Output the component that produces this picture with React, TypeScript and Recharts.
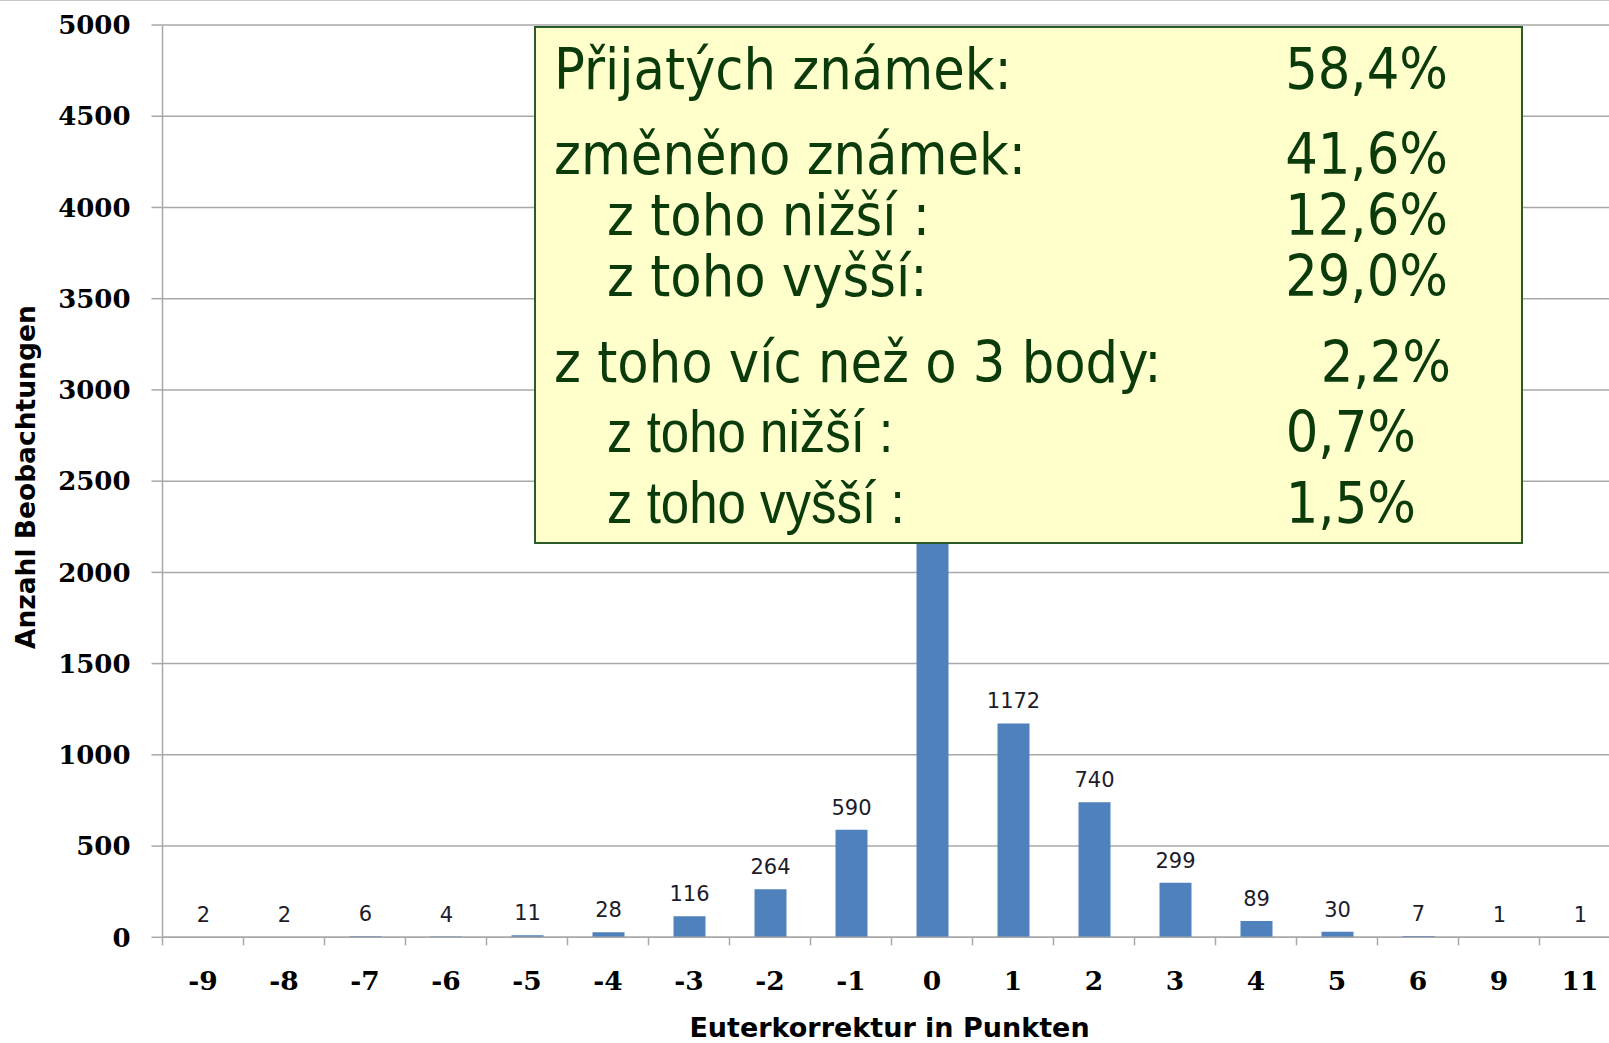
import React from 'react';
import { BarChart, Bar, XAxis, YAxis, CartesianGrid, LabelList } from 'recharts';

const categories = ['-9', '-8', '-7', '-6', '-5', '-4', '-3', '-2', '-1', '0', '1', '2', '3', '4', '5', '6', '9', '11'];
const counts = [2, 2, 6, 4, 11, 28, 116, 264, 590, 4720, 1172, 740, 299, 89, 30, 7, 1, 1];
// categories whose value label is covered by the annotation box in the original
const hiddenLabelCats = ['0'];
const yTicks = [0, 500, 1000, 1500, 2000, 2500, 3000, 3500, 4000, 4500, 5000];
const xTitle = 'Euterkorrektur in Punkten';
const yTitle = 'Anzahl Beobachtungen';
const statLabels = [
  'Přijatých známek:',
  'změněno známek:',
  'z toho nižší :',
  'z toho vyšší:',
  'z toho víc než o 3 body:',
  'z toho nižší :',
  'z toho vyšší :',
];
const statValues = ['58,4%', '41,6%', '12,6%', '29,0%', '2,2%', '0,7%', '1,5%'];

const data = categories.map((c, i) => ({
  cat: c,
  value: counts[i],
  label: hiddenLabelCats.includes(c) ? '' : String(counts[i]),
}));

const GRID = '#a8a8a8';
const TEXT_GREEN = '#0b3b0b';
const SERIF = "'DejaVu Serif', serif";
const SANS = "'DejaVu Sans', Verdana, sans-serif";
const COND = "'DejaVu Sans Condensed', 'DejaVu Sans', sans-serif";
const NARROW = "'Liberation Sans', Arial, sans-serif";

const XTick = (props: any) => {
  const { x, y, payload } = props;
  const half = payload && payload.offset ? payload.offset : 40.5;
  const axisY = y - 8;
  return (
    <g>
      <line x1={x - half} y1={axisY} x2={x - half} y2={axisY + 8} stroke={GRID} strokeWidth={1.5} />
      <text x={x} y={axisY + 53} textAnchor="middle" fontFamily={SERIF} fontWeight="bold" fontSize={26.5} fill="#000">
        {payload.value}
      </text>
    </g>
  );
};

// layout of annotation rows: [x, baseline, valueRight, labelFont, labelSize, labelScaleX]
const rowLayout: [number, number, number, string, number, number][] = [
  [20, 63, 914, COND, 57, 1],
  [20, 148, 914, COND, 57, 1],
  [73, 209, 914, COND, 57, 1],
  [73, 270, 914, COND, 57, 1],
  [20, 356, 917, COND, 57, 1],
  [73, 426, 882, NARROW, 60, 0.85],
  [73, 497, 882, NARROW, 60, 0.85],
];

const Annotation = () => (
  <svg
    width={990}
    height={520}
    style={{ position: 'absolute', left: 534, top: 26, overflow: 'visible' }}
  >
    <rect x={1} y={1} width={987} height={516} fill="#ffffcc" stroke="#2b5a2b" strokeWidth={2} />
    {statLabels.map((lab, i) => {
      const [lx, by, vr, font, size, sx] = rowLayout[i];
      return (
        <g key={i}>
          <text
            x={0}
            y={0}
            transform={`translate(${lx},${by}) scale(${sx},1)`}
            fontFamily={font}
            fontSize={size}
            fill={TEXT_GREEN}
          >
            {lab}
          </text>
          <text x={vr} y={by} textAnchor="end" fontFamily={COND} fontSize={57} fill={TEXT_GREEN}>
            {statValues[i]}
          </text>
        </g>
      );
    })}
  </svg>
);

export default function App() {
  return (
    <div
      style={{
        position: 'fixed',
        left: 0,
        top: 0,
        width: 1609,
        height: 1043,
        overflow: 'hidden',
        background: '#fff',
      }}
    >
      <div style={{ position: 'absolute', left: 0, top: 0, width: 1609, height: 1, background: '#c8c8c8' }} />
      <BarChart
        width={1625}
        height={1043}
        data={data}
        margin={{ top: 25, right: 4.5, bottom: 0, left: 0 }}
        barSize={32}
      >
        <CartesianGrid vertical={false} stroke={GRID} strokeWidth={1.5} />
        <XAxis
          dataKey="cat"
          type="category"
          height={105.7}
          tickLine={false}
          tickSize={8}
          tickMargin={0}
          axisLine={{ stroke: GRID, strokeWidth: 1.5 }}
          interval={0}
          tick={<XTick />}
          label={{
            content: (p: any) => {
              const vb = p.viewBox || { x: 162.5, y: 937, width: 1458, height: 105.7 };
              return (
                <text
                  x={vb.x + vb.width / 2 - 2}
                  y={vb.y + vb.height - 6}
                  textAnchor="middle"
                  fontFamily={SANS}
                  fontWeight="bold"
                  fontSize={27}
                  fill="#000"
                >
                  {xTitle}
                </text>
              );
            },
          }}
        />
        <YAxis
          width={162.5}
          domain={[0, 5000]}
          ticks={yTicks}
          interval={0}
          allowDataOverflow
          tickSize={11}
          tickMargin={21}
          axisLine={{ stroke: GRID, strokeWidth: 1.5 }}
          tickLine={{ stroke: GRID, strokeWidth: 1.5 }}
          tick={{ fontFamily: SERIF, fontWeight: 'bold', fontSize: 26, fill: '#000' }}
          label={{
            content: (p: any) => {
              const vb = p.viewBox || { x: 0, y: 25, width: 162.5, height: 912 };
              const cy = vb.y + vb.height / 2 - 4;
              return (
                <text
                  x={35}
                  y={cy}
                  transform={`rotate(-90, 35, ${cy})`}
                  textAnchor="middle"
                  fontFamily={SANS}
                  fontWeight="bold"
                  fontSize={26.5}
                  fill="#000"
                >
                  {yTitle}
                </text>
              );
            },
          }}
        />
        <Bar dataKey="value" fill="#4f81bd" isAnimationActive={false}>
          <LabelList
            dataKey="label"
            position="top"
            offset={15}
            fontFamily={SANS}
            fontSize={21}
            fill="#1c1c2a"
          />
        </Bar>
      </BarChart>
      <Annotation />
    </div>
  );
}
